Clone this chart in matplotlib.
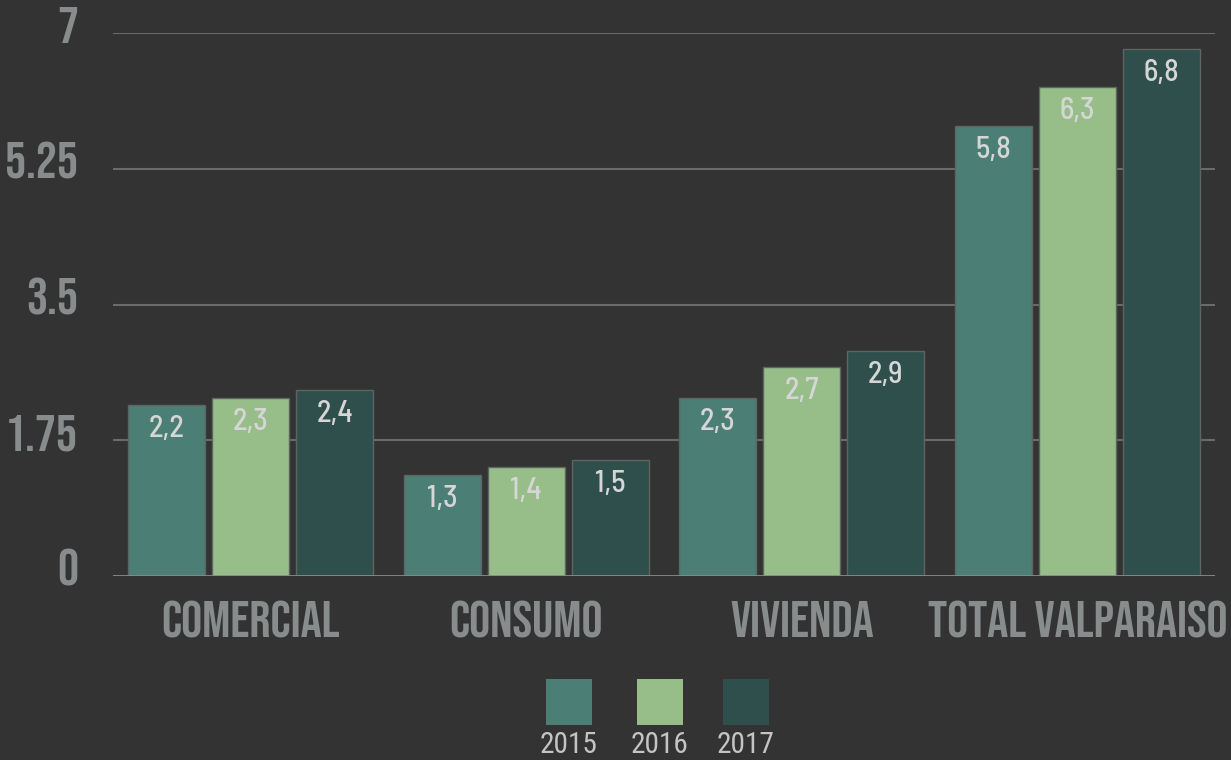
import matplotlib
matplotlib.use("Agg")
import matplotlib.pyplot as plt
from matplotlib.patches import Rectangle
import numpy as np

categories = ["COMERCIAL", "CONSUMO", "VIVIENDA", "TOTAL VALPARAISO"]
years = ["2015", "2016", "2017"]
values_2015 = [2.2, 1.3, 2.3, 5.8]
values_2016 = [2.3, 1.4, 2.7, 6.3]
values_2017 = [2.4, 1.5, 2.9, 6.8]
yticks = [0, 1.75, 3.5, 5.25, 7]
ytick_labels = ["0", "1.75", "3.5", "5.25", "7"]

series = [values_2015, values_2016, values_2017]
colors = ["#4b7e75", "#97be89", "#2e4f4b"]
bg = "#333333"
tick_color = "#888c8d"
value_color = "#d6d6d6"
cond = ["Bebas Neue", "DejaVu Sans"]
val_font = ["Barlow Semi Condensed", "DejaVu Sans"]
year_font = ["Roboto Condensed", "DejaVu Sans"]

W, H = 1231, 760
fig = plt.figure(figsize=(W/100, H/100), dpi=100, facecolor=bg)
renderer = fig.canvas.get_renderer()


def fit(text, family, weight, target_w):
    t = fig.text(0, 0, text, family=family, weight=weight, fontsize=100)
    w = t.get_window_extent(renderer).width
    t.remove()
    return 100 * target_w / w


cat_fs = (fit("COMERCIAL", cond, "normal", 186) + fit("TOTAL VALPARAISO", cond, "normal", 296)) / 2
cat_fs = min(cat_fs, fit("TOTAL VALPARAISO", cond, "normal", 300))
val_fs = fit("2,2", val_font, "medium", 36)
year_fs = fit("2015", year_font, "normal", 58)

ax = fig.add_axes([113/W, 1-576/H, (1215-113)/W, (576-33)/H])
ax.set_facecolor(bg)

x = np.arange(len(categories))
offsets = [-0.305, 0.0, 0.305]
width = 0.28
for vals, off, col in zip(series, offsets, colors):
    bars = ax.bar(x + off, vals, width=width, color=col, edgecolor="#5e6462",
                  linewidth=1.0, zorder=3)
    for b, v in zip(bars, vals):
        ax.annotate(f"{v:.1f}".replace(".", ","),
                    xy=(b.get_x() + b.get_width()/2, v),
                    xytext=(0, -32), textcoords="offset pixels",
                    ha="center", va="baseline", color=value_color,
                    fontsize=val_fs, family=val_font, weight="medium", zorder=4)

ax.set_xlim(-0.5, 3.5)
ax.set_ylim(0, 7)
ax.set_yticks(yticks)
ax.set_yticklabels([""] * len(yticks))
ax.set_xticks(x)
ax.set_xticklabels([""] * len(categories))
ax.tick_params(length=0)
for s in ax.spines.values():
    s.set_visible(False)

for yv, lab in zip(yticks, ytick_labels):
    ax.annotate(lab, xy=(0, yv), xycoords=("axes fraction", "data"),
                xytext=(-35, -10), textcoords="offset pixels",
                ha="right", va="baseline", color=tick_color,
                fontsize=cat_fs, family=cond, annotation_clip=False)
for xi, cat in zip(x, categories):
    ax.annotate(cat, xy=(xi, 0), xycoords=("data", "axes fraction"),
                xytext=(0, -61), textcoords="offset pixels",
                ha="center", va="baseline", color=tick_color,
                fontsize=cat_fs, family=cond, annotation_clip=False)

for yv in yticks[1:]:
    ax.axhline(yv, color="#6a6a6a", linewidth=1.5, zorder=1)
ax.axhline(0, color="#8a8a8a", linewidth=2, zorder=5)

# legend: squares with year labels below
sq_w, sq_h = 46/W, 46/H
sq_x = [546, 637, 723]
for xpx, col, yr in zip(sq_x, colors, years):
    fig.patches.append(Rectangle((xpx/W, 1-725/H), sq_w, sq_h,
                                 transform=fig.transFigure, facecolor=col,
                                 edgecolor="none"))
    fig.text((xpx+23)/W, 1-753/H, yr, ha="center", va="baseline",
             color="#c4c4c4", fontsize=year_fs, family=year_font)

fig.savefig("out.png", dpi=100, facecolor=bg)
